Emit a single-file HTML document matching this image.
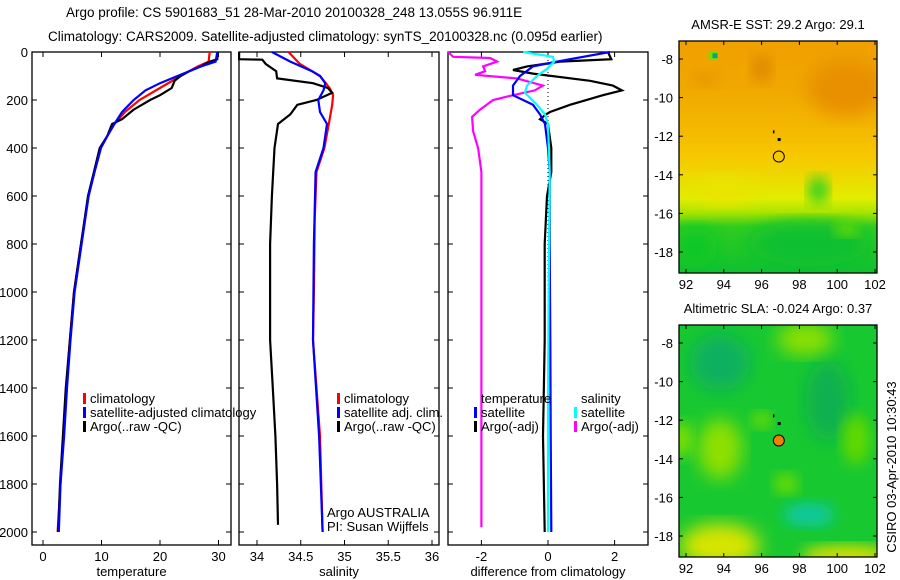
<!DOCTYPE html>
<html><head><meta charset="utf-8"><style>
html,body{margin:0;padding:0;background:#fff;}
svg{display:block;font-family:"Liberation Sans",sans-serif;}
text{fill:#000;}
</style></head><body>
<svg id="chart" width="900" height="580" viewBox="0 0 900 580" xmlns="http://www.w3.org/2000/svg">
<defs>
<filter id="blur1" x="-20%" y="-20%" width="140%" height="140%"><feGaussianBlur stdDeviation="9"/></filter>
<filter id="blur2" x="-20%" y="-20%" width="140%" height="140%"><feGaussianBlur stdDeviation="7"/></filter>
<clipPath id="clipTop"><rect x="679" y="41" width="198" height="232"/></clipPath>
<clipPath id="clipBot"><rect x="679" y="325" width="198" height="232"/></clipPath>
<linearGradient id="sstGrad" x1="0" y1="0" x2="0" y2="1">
<stop offset="0" stop-color="#f0a000"/><stop offset="0.2" stop-color="#f0a800"/><stop offset="0.38" stop-color="#f4b800"/><stop offset="0.5" stop-color="#f6c800"/><stop offset="0.6" stop-color="#ecdc00"/><stop offset="0.68" stop-color="#e0ee00"/><stop offset="0.74" stop-color="#a8e400"/><stop offset="0.8" stop-color="#30cc20"/><stop offset="1" stop-color="#10c030"/>
</linearGradient>
</defs>
<text x="66" y="17" font-size="13.5">Argo profile: CS 5901683_51 28-Mar-2010 20100328_248 13.055S 96.911E</text>
<text x="48" y="41" font-size="13.5">Climatology: CARS2009. Satellite-adjusted climatology: synTS_20100328.nc (0.095d earlier)</text>
<g id="plots"></g>
</svg>
<script>
// ---------- data ----------
const depthTicks=[0,200,400,600,800,1000,1200,1400,1600,1800,2000];
const tempTicks=[0,10,20,30];
const salTicks=[34,34.5,35,35.5,36];
const diffTicks=[-2,0,2];
// temperature panel
const tArgoDepth=[0,30,40,60,80,100,120,150,180,200,240,280,300,350,400,500,600,800,1000,1200,1400,1600,1800,2000];
const tArgoVal=[29.8,29.8,28.5,27,25,23.5,22.5,22,20,18.3,15.5,13.5,11.8,11,9.7,8.7,7.7,6.5,5.3,4.6,3.9,3.4,2.9,2.6];
const tClimDepth=[0,40,60,100,150,200,250,300,350,400,500,600,800,1000,1200,1400,1600,1800,2000];
const tClimVal=[28.5,28.3,26.5,23.5,20,16.5,14,12.2,11,9.9,8.8,7.8,6.5,5.3,4.6,4.0,3.5,3.0,2.5];
const tSatDepth=[0,40,60,100,130,160,200,250,300,350,400,500,600,800,1000,1200,1400,1600,1800,2000];
const tSatVal=[29.8,29.5,27,23,20,17.5,15.5,13.5,12.2,11,9.9,8.8,7.8,6.6,5.4,4.7,4.1,3.6,3.0,2.7];
// salinity panel
const sArgoDepth=[0,30,32,50,80,110,130,150,170,200,220,260,300,400,600,800,1200,1400,1600,1800,1970];
const sArgoVal=[33.79,33.79,34.06,34.1,34.22,34.23,34.64,34.81,34.86,34.68,34.46,34.38,34.24,34.2,34.17,34.15,34.15,34.18,34.21,34.23,34.24];
const sClimDepth=[0,50,100,150,180,220,300,400,500,700,1000,1200,1600,2000];
const sClimVal=[34.36,34.49,34.72,34.83,34.87,34.86,34.82,34.77,34.68,34.66,34.65,34.64,34.72,34.75];
const sSatDepth=[0,40,80,100,130,160,200,250,300,400,500,800,1200,1600,2000];
const sSatVal=[34.17,34.38,34.63,34.72,34.78,34.76,34.7,34.72,34.8,34.76,34.67,34.65,34.64,34.71,34.75];
// difference panel
const dMagDepth=[0,20,25,40,60,80,95,110,140,160,180,200,240,270,330,400,500,1000,1500,1980];
const dMagVal=[-3.0,-2.85,-1.74,-1.53,-1.95,-1.89,-2.19,-0.93,-0.15,-0.4,-1.05,-1.65,-2.04,-2.28,-2.25,-2.1,-2.0,-2.0,-2.0,-2.0];
const dBlkDepth=[0,30,40,60,75,90,120,140,160,180,220,250,260,280,300,400,500,600,800,1200,1600,2000];
const dBlkVal=[1.8,1.9,0.36,-0.63,-1.05,-0.45,1.26,1.95,2.22,1.65,0.66,0.06,-0.06,-0.24,0,0.1,0.1,-0.03,-0.1,-0.1,-0.15,-0.1];
const dBluDepth=[0,40,60,100,140,180,220,260,300,400,500,800,1200,1600,2000];
const dBluVal=[1.86,0.27,-0.45,-0.84,-1.05,-1.05,-0.45,-0.24,-0.09,0,0.05,0.05,0.07,0.08,0.1];
const dCyaDepth=[0,20,40,70,100,140,170,220,260,300,500,1000,1500,2000];
const dCyaVal=[-0.75,0.15,0.18,-0.03,-0.33,-0.63,-0.69,-0.33,-0.09,0,0.05,0.02,0.0,0.0];
// maps
const lonTicks=[92,94,96,98,100,102];
const latTicks=[-8,-10,-12,-14,-16,-18];
const floatLon=96.911, floatLat=-13.055;

// ---------- helpers ----------
const NS="http://www.w3.org/2000/svg";
const root=document.getElementById('plots');
function mk(tag,attrs,parent){const e=document.createElementNS(NS,tag);for(const k in attrs)e.setAttribute(k,attrs[k]);(parent||root).appendChild(e);return e;}
const Y0=52, PY=0.24, BOT=545, TOP=52;
const yD=d=>Y0+d*PY;

function panel(name,x0,x1,xf,ticks,fmt,label){
  const g=mk('g',{});
  
  
  const fr=mk('rect',{x:x0,y:TOP,width:x1-x0,height:BOT-TOP,fill:'none',stroke:'#000','stroke-width':1.3},g);
  
  
  ticks.forEach(t=>{const x=xf(t);
    mk('line',{x1:x,x2:x,y1:BOT,y2:BOT-5,stroke:'#000'},g);
    mk('line',{x1:x,x2:x,y1:TOP,y2:TOP+5,stroke:'#000'},g);
    const tx=mk('text',{x:x,y:561,'font-size':13,'text-anchor':'middle'},g);tx.textContent=fmt(t);
    
    
  });
  depthTicks.forEach(d=>{const y=yD(d);
    mk('line',{x1:x0,x2:x0+5,y1:y,y2:y,stroke:'#000'},g);
    mk('line',{x1:x1,x2:x1-5,y1:y,y2:y,stroke:'#000'},g);
  });
  const lb=mk('text',{x:(x0+x1)/2,y:576,'font-size':13,'text-anchor':'middle'},g);lb.textContent=label;
  
  
  return g;
}
function series(g,name,depths,vals,xf,color){
  const pts=depths.map((d,i)=>xf(vals[i]).toFixed(1)+','+yD(d).toFixed(1)).join(' ');
  const p=mk('polyline',{points:pts,fill:'none',stroke:color,'stroke-width':2.2,'stroke-linejoin':'miter'},g);
  
  
}
function legend(g,x,y,color,txt,name){
  if(color){mk('rect',{x:x,y:y-10,width:3,height:11,fill:color},g);}
  const t=mk('text',{x:x+7,y:y,'font-size':13},g);t.textContent=txt;
  
  
}

// ---------- temperature ----------
const xT=v=>43+v*5.85;
const g1=panel('temperature-panel',32,231,xT,tempTicks,String,'temperature');
depthTicks.forEach(d=>{const t=mk('text',{x:28,y:yD(d)+5,'font-size':13,'text-anchor':'end'},g1);t.textContent=d;
  
  });
series(g1,'temp-climatology-line',tClimDepth,tClimVal,xT,'#ff0000');
series(g1,'temp-argo-line',tArgoDepth,tArgoVal,xT,'#000000');
series(g1,'temp-satellite-line',tSatDepth,tSatVal,xT,'#0000ff');
legend(g1,83,403,'#ff0000','climatology','legend-climatology');
legend(g1,83,417,'#0000ff','satellite-adjusted climatology','legend-satellite-adjusted');
legend(g1,83,431,'#000000','Argo(..raw -QC)','legend-argo');

// ---------- salinity ----------
const xS=v=>257+(v-34)*87.5;
const g2=panel('salinity-panel',239,439,xS,salTicks,String,'salinity');
series(g2,'sal-climatology-line',sClimDepth,sClimVal,xS,'#ff0000');
series(g2,'sal-argo-line',sArgoDepth,sArgoVal.map(v=>Math.max(v,33.795)),xS,'#000000');
series(g2,'sal-satellite-line',sSatDepth,sSatVal,xS,'#0000ff');
legend(g2,337,403,'#ff0000','climatology','legend-climatology');
legend(g2,337,417,'#0000ff','satellite adj. clim.','legend-satellite-adj');
legend(g2,337,431,'#000000','Argo(..raw -QC)','legend-argo');
legend(g2,320,517,null,'Argo AUSTRALIA','argo-australia-label');
legend(g2,320,531,null,'PI: Susan Wijffels','pi-label');

// ---------- difference ----------
const xDf=v=>548+v*33.3;
const g3=panel('difference-panel',448,648,xDf,diffTicks,String,'difference from climatology');
mk('line',{x1:xDf(0),x2:xDf(0),y1:yD(0),y2:yD(2000),stroke:'#000','stroke-dasharray':'1,3'},g3);
series(g3,'salinity-argo-diff-line',dMagDepth,dMagVal,xDf,'#ff00ff');
series(g3,'temperature-argo-diff-line',dBlkDepth,dBlkVal,xDf,'#000000');
series(g3,'temperature-satellite-diff-line',dBluDepth,dBluVal,xDf,'#0000ff');
series(g3,'salinity-satellite-diff-line',dCyaDepth,dCyaVal,xDf,'#00ffff');
legend(g3,474,403,null,'temperature','legend-temperature-heading');
legend(g3,474,417,'#0000ff','satellite','legend-temp-satellite');
legend(g3,474,431,'#000000','Argo(-adj)','legend-temp-argo');
legend(g3,574,403,null,'salinity','legend-salinity-heading');
legend(g3,574,417,'#00ffff','satellite','legend-sal-satellite');
legend(g3,574,431,'#ff00ff','Argo(-adj)','legend-sal-argo');

// ---------- maps ----------
function mapAxes(name,top,title){
  const g=mk('g',{});
  
  
  const lx=v=>686+(v-92)*18.9;
  const ly=v=>top+18+(-8-v)*19.3;
  return {g,lx,ly,top,title};
}
function mapFrame(m){
  const g=m.g, top=m.top;
  mk('rect',{x:679,y:top,width:198,height:232,fill:'none',stroke:'#000','stroke-width':1.3},g);
  lonTicks.forEach(v=>{const x=m.lx(v);
    mk('line',{x1:x,x2:x,y1:top+232,y2:top+228,stroke:'#000'},g);
    mk('line',{x1:x,x2:x,y1:top,y2:top+4,stroke:'#000'},g);
    const t=mk('text',{x:x,y:top+248,'font-size':13,'text-anchor':'middle'},g);t.textContent=v;
    
    });
  latTicks.forEach(v=>{const y=m.ly(v);
    mk('line',{x1:679,x2:683,y1:y,y2:y,stroke:'#000'},g);
    mk('line',{x1:877,x2:873,y1:y,y2:y,stroke:'#000'},g);
    const t=mk('text',{x:673,y:y+5,'font-size':13,'text-anchor':'end'},g);t.textContent=v;
    
    });
  const tt=mk('text',{x:778,y:top-12,'font-size':13,'text-anchor':'middle'},g);tt.textContent=m.title;
  
  
  mk('rect',{x:m.lx(96.85),y:m.ly(-12.2)-2,width:3,height:3,fill:'#000'},g);
  mk('rect',{x:m.lx(96.6),y:m.ly(-11.8)-2,width:1.5,height:3,fill:'#000'},g);
}
function blob(parent,m,lon,lat,rx,ry,color,filt){
  mk('ellipse',{cx:m.lx(lon),cy:m.ly(lat),rx:rx,ry:ry,fill:color,filter:'url(#'+filt+')'},parent);
}
// SST map
const m1=mapAxes('sst-map',41,'AMSR-E SST: 29.2 Argo: 29.1');
const f1=mk('g',{'clip-path':'url(#clipTop)'},m1.g);
mk('rect',{x:679,y:41,width:198,height:232,fill:'url(#sstGrad)'},f1);
blob(f1,m1,100.5,-9.5,40,28,'#e89000','blur1');
blob(f1,m1,96,-8.5,10,14,'#e08800','blur2');
blob(f1,m1,93,-9,14,8,'#e89800','blur2');
blob(f1,m1,94,-14.8,30,14,'#eae400','blur1');
blob(f1,m1,99,-14.8,10,14,'#30d020','blur2');
blob(f1,m1,98.5,-17.6,60,22,'#10c030','blur1');
blob(f1,m1,92.5,-17.8,22,20,'#10c828','blur1');
blob(f1,m1,100.5,-16.8,12,7,'#70dc00','blur2');
mk('rect',{x:m1.lx(93.2),y:m1.ly(-7.6),width:9,height:8,fill:'#70e000'},f1);
mk('rect',{x:m1.lx(93.4),y:m1.ly(-7.7),width:5,height:5,fill:'#10a080'},f1);
mapFrame(m1);
const c1=mk('circle',{cx:m1.lx(floatLon),cy:m1.ly(floatLat),r:5.5,fill:'none',stroke:'#000','stroke-width':1},m1.g);


// SLA map
const m2=mapAxes('sla-map',325,'Altimetric SLA: -0.024 Argo: 0.37');
const f2=mk('g',{'clip-path':'url(#clipBot)'},m2.g);
mk('rect',{x:679,y:325,width:198,height:232,fill:'#18c830'},f2);
blob(f2,m2,93.8,-9,30,28,'#10b060','blur1');
blob(f2,m2,99.5,-11,22,40,'#10b050','blur1');
blob(f2,m2,98.3,-7.8,28,16,'#90e000','blur1');
blob(f2,m2,93.8,-13.5,22,30,'#90e000','blur1');
blob(f2,m2,91.8,-13,10,18,'#80e000','blur2');
blob(f2,m2,96,-12,10,8,'#70dc00','blur2');
blob(f2,m2,97.3,-15.3,12,10,'#70dc00','blur2');
blob(f2,m2,101,-13,14,25,'#60d800','blur2');
blob(f2,m2,98.5,-16.9,26,12,'#10c8a0','blur2');
blob(f2,m2,93.8,-18.5,40,22,'#d8e400','blur1');
blob(f2,m2,100.5,-19,45,10,'#d8e000','blur2');
mapFrame(m2);
const c2=mk('circle',{cx:m2.lx(floatLon),cy:m2.ly(floatLat),r:5.5,fill:'#f08000',stroke:'#000','stroke-width':1},m2.g);


const cs=mk('text',{x:0,y:0,'font-size':13,'text-anchor':'middle',transform:'translate(896,467) rotate(-90)'});
cs.textContent='CSIRO 03-Apr-2010 10:30:43';


</script>
</body></html>
